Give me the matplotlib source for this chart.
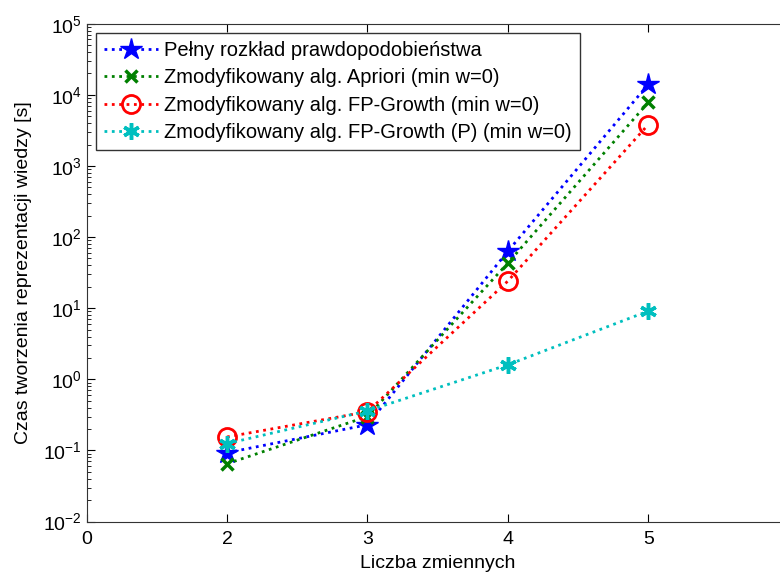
import matplotlib
matplotlib.use("Agg")
import matplotlib.pyplot as plt
from matplotlib.ticker import LogLocator, NullFormatter

plt.rcParams['font.family'] = ['Liberation Sans', 'DejaVu Sans']
plt.rcParams['mathtext.default'] = 'regular'

# data
n_vars = [2, 3, 4, 5]
pelny = [0.093, 0.23, 63, 14000]
apriori = [0.065, 0.30, 43, 7800]
fpgrowth = [0.155, 0.35, 24, 3800]
fpgrowth_p = [0.125, 0.36, 1.6, 9.1]

labels = [
    "Pełny rozkład prawdopodobieństwa",
    "Zmodyfikowany alg. Apriori (min w=0)",
    "Zmodyfikowany alg. FP-Growth (min w=0)",
    "Zmodyfikowany alg. FP-Growth (P) (min w=0)",
]
xtick_pos = [1, 2, 3, 4, 5]
xtick_labels = ["0", "2", "3", "4", "5"]

fig = plt.figure(figsize=(7.8, 5.77), dpi=100)
ax = fig.add_axes([0.111, 0.096, 0.90, 0.863])

ax.plot(n_vars, pelny, ':', color='#0000ff', lw=2, marker='*', ms=16,
        mfc='#0000ff', mec='#0000ff', label=labels[0])
ax.plot(n_vars, apriori, ':', color='#008000', lw=2, marker='x', ms=9,
        mew=2.5, label=labels[1])
ax.plot(n_vars, fpgrowth, ':', color='#ff0000', lw=2, marker='o', ms=13,
        mfc='none', mew=2, label=labels[2])
ax.plot(n_vars, fpgrowth_p, ':', color='#00bfbf', lw=2, marker=(6, 2, 0), ms=12,
        mew=2.5, label=labels[3])

ax.set_yscale('log')
ax.set_ylim(1e-2, 1e5)
ax.set_xlim(1, 6)
ax.set_xticks(xtick_pos)
ax.set_xticklabels(xtick_labels)
ax.yaxis.set_major_locator(LogLocator(base=10, numticks=10))
ax.yaxis.set_minor_locator(LogLocator(base=10, subs=range(2, 10), numticks=100))
ax.yaxis.set_minor_formatter(NullFormatter())
ax.tick_params(which='both', direction='in', top=True, right=True, labelsize=14)
ax.tick_params(which='major', length=6)
ax.tick_params(which='minor', length=3)
ax.tick_params(axis='x', pad=7)
for s in ax.spines.values():
    s.set_color('#333333')

ax.set_xlabel("Liczba zmiennych", fontsize=14, labelpad=5)
ax.set_ylabel("Czas tworzenia reprezentacji wiedzy [s]", fontsize=14, labelpad=8)

leg = ax.legend(loc='upper left', fontsize=14.5, fancybox=False, framealpha=1,
                edgecolor='#333333', borderaxespad=0.45, handlelength=2.7,
                handletextpad=0.3, labelspacing=0.42, borderpad=0.4)
leg.get_frame().set_linewidth(1)

fig.savefig("out.png", dpi=100)
